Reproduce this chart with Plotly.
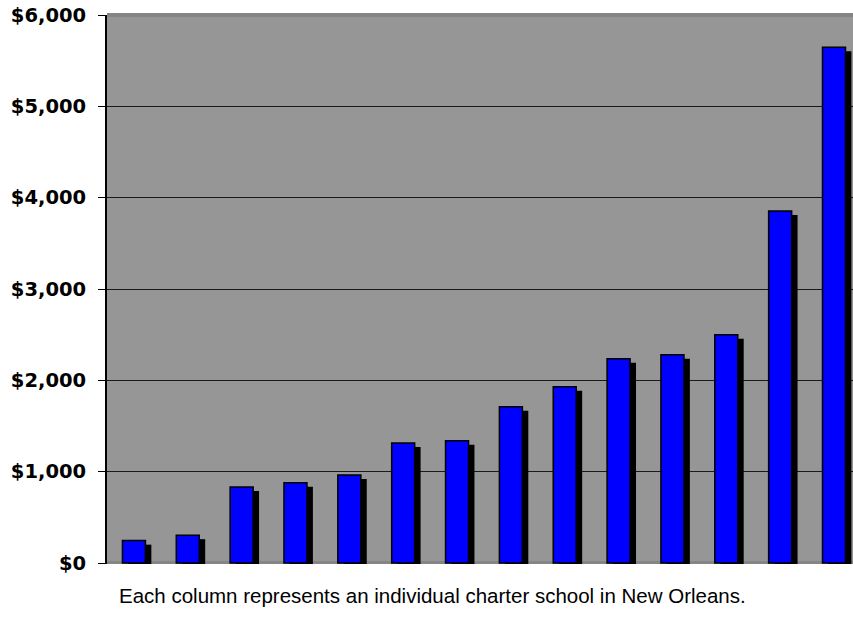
import plotly.graph_objects as go

# Per-school amounts, one column per charter school (dollars)
schools = list(range(14))
amounts = [245, 305, 832, 879, 963, 1314, 1339, 1711, 1930, 2237, 2281, 2500, 3854, 5646]
tick_values = [0, 1000, 2000, 3000, 4000, 5000, 6000]
tick_labels = ["$0", "$1,000", "$2,000", "$3,000", "$4,000", "$5,000", "$6,000"]
caption = "Each column represents an individual charter school in New Orleans."

BAR_W = 0.427          # column width in category units
SHADOW_DX = 0.11       # drop-shadow shift to the right (category units)
SHADOW_DY = 44         # drop-shadow shift downwards (value units)

fig = go.Figure()

# Black drop shadow behind each column
fig.add_trace(go.Bar(
    x=schools,
    y=[v for v in amounts],
    base=[-SHADOW_DY] * len(amounts),
    width=BAR_W,
    offset=-BAR_W / 2 + SHADOW_DX,
    marker=dict(color="black", line=dict(width=0)),
    hoverinfo="skip",
    showlegend=False,
))

# Blue columns
fig.add_trace(go.Bar(
    x=schools,
    y=amounts,
    width=BAR_W,
    offset=-BAR_W / 2,
    marker=dict(color="#0000ff", line=dict(color="black", width=1.5)),
    showlegend=False,
))

fig.update_layout(
    width=853, height=629,
    margin=dict(l=107, r=0, t=15, b=65),
    paper_bgcolor="white",
    plot_bgcolor="#969696",
    barmode="overlay",
    xaxis=dict(
        range=[-0.5, 13.353],
        showticklabels=False, ticks="", showgrid=False,
        zeroline=False, showline=False, fixedrange=True,
    ),
    yaxis=dict(
        range=[-11, 6000],
        tickvals=tick_values, ticktext=tick_labels,
        ticks="outside", ticklen=7, tickcolor="black", tickwidth=1,
        ticklabelstandoff=8,
        tickfont=dict(family="DejaVu Sans", size=19.5, color="black", weight="bold"),
        showgrid=True, gridcolor="#1a1a1a", gridwidth=1,
        zeroline=False,
        showline=True, linecolor="black", linewidth=2,
    ),
    shapes=[
        # darker rim along the top and bottom of the plot area
        dict(type="rect", xref="paper", yref="paper", x0=0, x1=1,
             y0=0.9964, y1=1.0036, fillcolor="#858585", line=dict(width=0), layer="below"),
        dict(type="rect", xref="paper", yref="paper", x0=0, x1=1,
             y0=0, y1=0.0055, fillcolor="#858585", line=dict(width=0), layer="below"),
    ],
    annotations=[
        dict(text=caption, xref="paper", yref="paper", x=(432 - 107) / 746, y=-0.058,
             xanchor="center", yanchor="middle", showarrow=False,
             font=dict(family="Liberation Sans", size=20.5, color="black")),
    ],
)

fig.write_html("out.html")
